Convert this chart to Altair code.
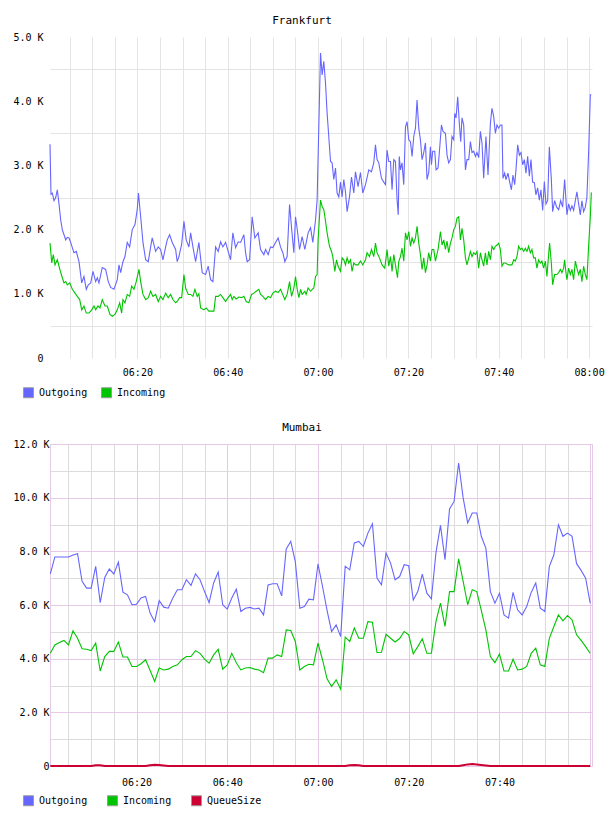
import altair as alt
import pandas as pd

FONT = "DejaVu Sans Mono"
C_OUT, C_IN, C_Q = "#6666ff", "#00c400", "#cc0033"

# ---------------- Frankfurt (minutes after 06:00, values in K) ----------------
fra_out_min = [0.66, 0.88, 1.17, 1.55, 1.92, 2.28, 2.65, 3.03, 3.38, 3.76,
               4.14, 4.49, 4.87, 5.24, 5.60, 5.97, 6.48, 7.08, 7.68, 8.18,
               8.69, 9.14, 9.67, 10.18, 10.77, 11.13, 11.50, 12.23, 12.98, 13.56,
               14.09, 14.82, 15.55, 15.93, 16.30, 16.81, 17.25, 17.76, 18.29, 18.87,
               19.47, 19.97, 20.24, 20.73, 21.24, 21.83, 22.41, 22.94, 23.29, 24.04,
               24.62, 25.15, 25.66, 26.26, 26.61, 27.14, 27.72, 28.47, 28.82, 29.20,
               29.80, 30.31, 30.81, 31.41, 31.79, 32.30, 32.89, 33.62, 34.35, 35.10,
               35.68, 36.21, 36.72, 37.32, 37.89, 38.42, 38.93, 39.53, 40.10, 40.63,
               41.14, 41.74, 42.32, 42.85, 43.58, 43.95, 44.31, 44.84, 45.41, 46.01,
               46.74, 47.27, 48.00, 48.38, 48.95, 49.48, 49.99, 50.59, 51.16, 51.69,
               52.20, 52.65, 53.15, 53.69, 54.13, 54.64, 55.01, 55.45, 55.90, 56.47,
               57.07, 57.80, 58.33, 58.84, 59.44, 59.79, 60.54, 60.90, 61.27, 61.65,
               62.00, 62.76, 63.11, 63.48, 63.86, 64.21, 64.59, 64.97, 65.32, 65.70,
               66.07, 66.43, 66.96, 67.40, 67.91, 68.28, 68.86, 69.39, 69.90, 70.50,
               71.23, 71.82, 72.33, 72.71, 73.06, 73.44, 74.04, 74.54, 74.92, 75.27,
               75.65, 76.03, 76.38, 76.76, 77.13, 77.49, 77.75, 77.97, 78.24, 78.59,
               78.97, 79.35, 79.70, 80.08, 80.45, 80.81, 81.18, 81.56, 81.91, 82.29,
               82.66, 83.02, 83.39, 83.77, 84.12, 84.50, 84.87, 85.10, 85.38, 85.83,
               86.12, 86.56, 86.87, 87.31, 87.66, 88.19, 88.55, 88.92, 89.30, 89.65,
               90.03, 90.25, 90.54, 90.91, 91.29, 91.58, 91.86, 92.24, 92.62, 92.97,
               93.35, 93.72, 94.08, 94.45, 94.83, 95.18, 95.56, 95.93, 96.29, 96.66,
               97.17, 97.62, 98.15, 98.50, 98.88, 99.25, 99.61, 99.98, 100.36, 100.71,
               100.93, 101.31, 101.60, 102.04, 102.42, 102.79, 103.15, 103.52, 103.81, 104.19,
               104.56, 104.92, 105.29, 105.67, 106.02, 106.40, 106.77, 107.13, 107.50, 107.88,
               108.23, 108.61, 108.98, 109.34, 109.72, 110.09, 110.45, 110.82, 111.20, 111.64,
               111.93, 112.37, 112.82, 113.26, 113.70, 114.14, 114.58, 115.09, 115.47, 115.84,
               116.20, 116.57, 116.95, 117.30, 117.68, 118.05, 118.41, 118.78, 119.16, 119.51,
               119.89, 120.27, 120.49]
fra_out_k = [3.33, 2.55, 2.57, 2.45, 2.50, 2.62, 2.40, 2.15, 2.00, 1.92,
             1.84, 1.88, 1.87, 1.80, 1.72, 1.64, 1.66, 1.50, 1.17, 1.27,
             1.07, 1.14, 1.17, 1.35, 1.19, 1.25, 1.17, 1.41, 1.38, 1.19,
             1.10, 1.07, 1.22, 1.45, 1.33, 1.50, 1.58, 1.80, 1.73, 2.00,
             2.08, 2.31, 2.57, 2.20, 1.80, 1.53, 1.50, 1.73, 1.87, 1.66,
             1.73, 1.69, 1.53, 1.73, 1.84, 1.92, 1.80, 1.69, 1.50, 1.58,
             1.77, 2.13, 1.84, 1.73, 1.95, 1.73, 1.50, 1.80, 1.33, 1.30,
             1.43, 1.22, 1.19, 1.73, 1.66, 1.81, 1.73, 1.80, 1.66, 1.53,
             1.95, 1.72, 1.81, 1.80, 1.92, 1.64, 1.50, 1.53, 2.20, 1.87,
             1.95, 1.69, 1.61, 1.69, 1.61, 1.73, 1.72, 1.80, 1.87, 1.73,
             1.64, 1.50, 1.58, 2.39, 2.03, 1.64, 2.20, 1.97, 1.69, 1.89,
             1.69, 1.95, 2.03, 1.80, 2.15, 2.46, 4.75, 4.41, 4.62, 4.28,
             3.82, 3.06, 3.04, 2.78, 2.96, 2.57, 2.51, 2.74, 2.51, 2.78,
             2.59, 2.28, 2.51, 2.82, 2.57, 2.90, 2.67, 2.89, 2.57, 2.70,
             2.93, 2.90, 3.04, 3.32, 3.09, 3.04, 2.80, 2.74, 2.70, 3.24,
             3.06, 3.06, 2.62, 3.09, 3.06, 2.46, 2.23, 3.14, 2.93, 3.04,
             2.70, 3.60, 3.68, 3.40, 3.37, 3.14, 3.45, 3.58, 4.02, 3.58,
             3.40, 3.09, 3.20, 3.35, 2.78, 2.89, 3.29, 3.01, 3.22, 3.22,
             2.93, 2.96, 3.22, 3.63, 3.53, 3.50, 3.16, 3.04, 3.09, 3.45,
             3.40, 3.81, 3.74, 4.07, 3.63, 3.37, 3.74, 3.63, 2.93, 3.09,
             3.09, 3.37, 3.20, 3.22, 3.14, 3.20, 3.12, 3.53, 3.35, 2.80,
             3.45, 2.85, 3.66, 3.89, 3.76, 3.50, 3.63, 3.58, 3.63, 3.63,
             2.80, 2.88, 2.78, 2.88, 2.74, 2.62, 2.85, 2.70, 2.93, 3.32,
             3.16, 3.20, 3.01, 3.09, 2.88, 3.14, 2.83, 3.09, 2.74, 2.73,
             2.54, 2.65, 2.46, 2.62, 2.30, 2.75, 2.40, 2.45, 3.29, 2.78,
             2.28, 2.45, 2.35, 2.31, 2.45, 2.35, 2.78, 2.23, 2.40, 2.30,
             2.37, 2.30, 2.45, 2.59, 2.40, 2.23, 2.45, 2.28, 2.35, 2.50,
             3.20, 4.10, 4.10]

fra_in_min = [0.66, 1.04, 1.39, 1.77, 2.28, 2.65, 3.16, 3.76, 4.14, 4.49,
              5.02, 5.60, 6.19, 6.70, 7.23, 7.68, 8.18, 8.69, 9.29, 9.89,
              10.40, 10.77, 11.28, 11.72, 12.23, 12.83, 13.34, 13.94, 14.44, 15.04,
              15.55, 16.08, 16.52, 16.81, 17.25, 17.76, 18.29, 18.74, 19.24, 19.75,
              20.35, 20.73, 21.24, 21.83, 22.41, 22.94, 23.45, 24.04, 24.62, 25.15,
              25.66, 26.26, 26.83, 27.36, 27.87, 28.47, 28.82, 29.35, 29.80, 30.31,
              30.68, 31.26, 31.79, 32.30, 32.74, 33.25, 33.62, 34.00, 34.73, 35.24,
              35.83, 36.94, 37.32, 37.89, 38.42, 38.93, 39.53, 40.10, 40.63, 40.99,
              41.36, 41.87, 42.47, 43.07, 43.58, 44.09, 44.68, 45.28, 45.79, 46.30,
              46.90, 47.27, 47.78, 48.38, 48.95, 49.48, 49.99, 50.59, 51.16, 51.69,
              52.05, 52.65, 53.15, 53.69, 54.13, 54.64, 55.01, 55.38, 55.75, 56.13,
              56.48, 57.07, 57.36, 57.80, 58.33, 58.69, 59.06, 59.44, 59.79, 60.01,
              60.54, 60.90, 61.27, 61.65, 62.00, 62.53, 62.98, 63.26, 63.71, 64.08,
              64.44, 64.97, 65.32, 65.70, 66.07, 66.43, 66.80, 67.18, 67.53, 67.91,
              68.28, 68.86, 69.39, 69.90, 70.50, 70.85, 71.38, 71.82, 72.33, 72.71,
              73.06, 73.59, 74.17, 74.77, 75.27, 75.65, 76.03, 76.38, 76.76, 77.13,
              77.58, 77.86, 78.24, 78.59, 78.97, 79.35, 79.70, 80.08, 80.45, 80.81,
              81.18, 81.56, 81.91, 82.29, 82.66, 83.02, 83.39, 83.77, 84.12, 84.50,
              84.87, 85.23, 85.61, 85.98, 86.56, 87.09, 87.44, 87.82, 88.19, 88.55,
              88.92, 89.30, 89.65, 90.03, 90.40, 90.76, 91.14, 91.51, 91.86, 92.24,
              92.62, 92.97, 93.35, 93.72, 94.08, 94.45, 94.83, 95.18, 95.56, 95.93,
              96.29, 96.66, 97.04, 97.39, 97.77, 98.15, 98.50, 98.88, 99.25, 99.61,
              99.98, 100.36, 100.71, 101.09, 101.46, 102.19, 102.92, 103.30, 103.67, 104.03,
              104.40, 104.78, 105.13, 105.51, 105.88, 106.24, 106.61, 106.99, 107.34, 107.72,
              108.09, 108.45, 108.82, 109.20, 109.55, 109.93, 110.31, 110.66, 111.04, 111.26,
              111.64, 111.93, 112.37, 112.88, 113.26, 113.63, 113.98, 114.36, 114.58, 114.87,
              115.09, 115.47, 115.84, 116.20, 116.57, 116.95, 117.30, 117.68, 118.05, 118.41,
              118.78, 119.16, 119.51, 119.89, 120.27, 120.49]
fra_in_k = [1.79, 1.48, 1.61, 1.45, 1.53, 1.43, 1.30, 1.17, 1.19, 1.14,
            1.17, 1.07, 1.01, 0.96, 0.91, 0.75, 0.81, 0.70, 0.70, 0.75,
            0.81, 0.75, 0.81, 0.78, 0.91, 0.81, 0.81, 0.68, 0.65, 0.68,
            0.75, 0.86, 0.70, 0.91, 0.86, 0.99, 0.96, 1.12, 1.07, 1.19,
            1.38, 1.19, 0.99, 0.91, 0.94, 1.04, 0.96, 0.99, 0.88, 0.96,
            0.91, 1.01, 0.94, 0.99, 0.91, 0.86, 0.88, 0.94, 0.94, 1.30,
            1.09, 0.99, 0.99, 0.96, 1.07, 0.96, 1.00, 0.78, 0.75, 0.78,
            0.73, 0.73, 0.96, 0.96, 0.99, 0.94, 0.88, 0.94, 0.99, 0.91,
            0.96, 0.92, 0.95, 0.94, 0.96, 0.88, 0.86, 0.99, 1.01, 1.04,
            1.07, 0.99, 0.96, 0.91, 0.96, 0.94, 1.01, 1.04, 1.02, 1.07,
            1.01, 0.91, 0.99, 1.19, 0.96, 1.09, 1.27, 1.07, 0.94, 1.07,
            0.99, 1.04, 0.99, 1.09, 1.04, 1.07, 1.09, 1.27, 1.30, 1.84,
            2.46, 2.36, 2.31, 2.13, 1.95, 1.74, 1.66, 1.58, 1.35, 1.53,
            1.43, 1.35, 1.56, 1.53, 1.45, 1.56, 1.48, 1.53, 1.35, 1.48,
            1.45, 1.45, 1.51, 1.45, 1.53, 1.64, 1.58, 1.69, 1.58, 1.79,
            1.64, 1.56, 1.45, 1.40, 1.69, 1.43, 1.58, 1.35, 1.61, 1.45,
            1.25, 1.50, 1.58, 1.71, 1.51, 1.95, 1.84, 1.97, 1.74, 1.87,
            1.79, 1.87, 2.05, 1.79, 1.61, 1.38, 1.56, 1.33, 1.45, 1.64,
            1.51, 1.69, 1.69, 1.51, 1.69, 1.97, 1.76, 1.84, 1.69, 1.82,
            1.64, 1.79, 1.87, 2.00, 2.05, 2.18, 2.20, 1.84, 2.02, 1.84,
            1.56, 1.45, 1.56, 1.66, 1.58, 1.64, 1.61, 1.66, 1.40, 1.64,
            1.53, 1.43, 1.64, 1.45, 1.66, 1.53, 1.74, 1.69, 1.74, 1.76,
            1.79, 1.69, 1.43, 1.48, 1.48, 1.45, 1.45, 1.53, 1.51, 1.58,
            1.74, 1.69, 1.71, 1.66, 1.71, 1.66, 1.74, 1.64, 1.69, 1.56,
            1.56, 1.40, 1.53, 1.48, 1.51, 1.40, 1.51, 1.27, 1.61, 1.79,
            1.48, 1.14, 1.30, 1.30, 1.33, 1.38, 1.33, 1.40, 1.53, 1.33,
            1.22, 1.40, 1.30, 1.38, 1.22, 1.51, 1.40, 1.30, 1.38, 1.19,
            1.43, 1.30, 1.22, 1.74, 2.20, 2.58]

# ---------------- Mumbai (one sample per minute, 06:01 .. 08:00, values in K) ----------------
mum_min = list(range(1, 121))
mum_out_k = [7.16, 7.79, 7.79, 7.79, 7.79, 7.86, 7.91, 6.88, 6.63, 6.63,
             7.44, 6.09, 7.03, 7.34, 7.16, 7.60, 6.48, 6.38, 6.01, 6.03,
             6.26, 6.32, 5.70, 5.38, 6.16, 5.92, 5.88, 6.26, 6.57, 6.57,
             6.94, 6.73, 7.16, 6.94, 6.50, 6.09, 6.82, 7.23, 6.01, 5.85,
             6.26, 6.59, 5.76, 5.88, 5.91, 5.85, 5.88, 5.63, 6.75, 6.79,
             6.79, 6.34, 8.09, 8.37, 7.62, 5.88, 5.94, 6.22, 6.19, 7.53,
             6.69, 5.80, 5.01, 5.26, 4.82, 7.44, 7.31, 8.31, 8.37, 8.18,
             8.68, 9.03, 7.00, 6.75, 7.94, 7.56, 6.94, 7.06, 7.50, 7.46,
             6.19, 6.50, 7.15, 6.44, 6.23, 7.94, 8.97, 7.69, 9.58, 9.86,
             11.29, 9.99, 9.06, 9.43, 9.43, 8.56, 8.12, 6.50, 6.07, 6.44,
             5.63, 5.51, 6.47, 5.82, 5.63, 5.94, 6.47, 6.82, 5.88, 5.76,
             7.44, 7.87, 8.99, 8.56, 8.68, 8.56, 7.54, 7.29, 7.00, 6.07]
mum_in_k = [4.20, 4.51, 4.60, 4.68, 4.51, 5.04, 4.76, 4.37, 4.35, 4.30,
            4.58, 3.54, 4.08, 4.27, 4.27, 4.62, 4.06, 4.06, 3.71, 3.71,
            3.81, 3.96, 3.56, 3.15, 3.65, 3.58, 3.61, 3.71, 3.77, 3.96,
            4.08, 4.08, 4.30, 4.20, 3.98, 3.83, 4.14, 4.35, 3.61, 3.77,
            4.20, 3.85, 3.58, 3.65, 3.67, 3.61, 3.58, 3.48, 4.02, 4.02,
            4.14, 4.08, 5.07, 5.05, 4.64, 3.58, 3.71, 3.79, 3.77, 4.58,
            3.96, 3.25, 2.96, 3.21, 2.86, 4.80, 4.64, 5.14, 4.76, 4.76,
            5.38, 5.36, 4.23, 4.24, 4.91, 4.76, 4.62, 4.75, 5.01, 4.89,
            4.18, 4.45, 4.74, 4.20, 4.20, 5.38, 6.07, 5.20, 6.50, 6.50,
            7.72, 6.88, 6.01, 6.57, 6.50, 5.80, 5.07, 4.08, 3.85, 4.17,
            3.54, 3.54, 3.98, 3.58, 3.61, 3.71, 4.20, 4.39, 3.77, 3.71,
            4.76, 5.20, 5.63, 5.41, 5.61, 5.45, 4.89, 4.68, 4.45, 4.20]
mum_queue_k = [0, 0, 0, 0, 0, 0, 0, 0, 0, 0,
               0.025, 0.025, 0, 0, 0, 0, 0, 0, 0, 0,
               0, 0, 0.03, 0.05, 0.04, 0.02, 0, 0, 0, 0,
               0, 0, 0, 0, 0, 0, 0, 0, 0, 0,
               0, 0, 0, 0, 0, 0, 0, 0, 0, 0,
               0, 0, 0, 0, 0, 0, 0, 0, 0, 0,
               0, 0, 0, 0, 0, 0, 0.03, 0.04, 0.03, 0,
               0, 0, 0, 0, 0, 0, 0, 0, 0, 0,
               0, 0, 0, 0, 0, 0, 0, 0, 0, 0,
               0, 0.03, 0.06, 0.07, 0.06, 0.04, 0.02, 0, 0, 0,
               0, 0, 0, 0, 0, 0, 0, 0, 0, 0,
               0, 0, 0, 0, 0, 0, 0, 0, 0, 0]

for a, b in [(fra_out_min, fra_out_k), (fra_in_min, fra_in_k),
             (mum_min, mum_out_k), (mum_min, mum_in_k), (mum_min, mum_queue_k)]:
    assert len(a) == len(b), (len(a), len(b))


def frame(times, values, name):
    return pd.DataFrame({"t": times, "v": [k * 1000 for k in values],
                         "series": name, "key": name})


fra_df = pd.concat([frame(fra_out_min, fra_out_k, "Outgoing"),
                    frame(fra_in_min, fra_in_k, "Incoming")], ignore_index=True)
mum_df = pd.concat([frame(mum_min, mum_out_k, "Outgoing"),
                    frame(mum_min, mum_in_k, "Incoming"),
                    frame(mum_min, mum_queue_k, "QueueSize")], ignore_index=True)


def legend(x, y, cols, grid_align):
    return alt.Legend(
        title=None, orient="none", legendX=x, legendY=y, direction="horizontal",
        columns=cols, gridAlign=grid_align, columnPadding=11, padding=0,
        symbolType="square", symbolSize=100, symbolStrokeColor="#9a9a9a",
        symbolStrokeWidth=1, symbolOpacity=1, labelFont=FONT, labelFontSize=10,
        labelColor="black", labelOffset=5,
    )


def x_axis(label_test, grid_color, pad):
    return alt.Axis(
        values=list(range(5, 121, 5)),
        labelExpr="(%s) ? timeFormat(datetime(2000, 0, 1, 6, datum.value, 0), '%%H:%%M') : ''" % label_test,
        grid=True, gridColor=grid_color, gridWidth=1, ticks=False, domain=False,
        labelFlush=False, labelOverlap=False, labelPadding=pad,
        labelFont=FONT, labelFontSize=10, labelColor="black", title=None,
    )


def title(text):
    return alt.TitleParams(text=text, font=FONT, fontSize=11, fontWeight="normal",
                           color="black", anchor="middle", frame="group", dx=-19, offset=6)


def panel(df, names, colors, xdomain, ydomain, x_ax, y_ax, leg, w, h, ttl, stroke):
    base = alt.Chart(df).encode(
        x=alt.X("t:Q", scale=alt.Scale(domain=xdomain, nice=False, zero=False), axis=x_ax),
        y=alt.Y("v:Q", scale=alt.Scale(domain=ydomain, nice=False), axis=y_ax),
    )
    # line colours: same mapping, listed in reverse so this scale is not merged with the key legend
    lines = base.mark_line().encode(
        color=alt.Color("series:N", scale=alt.Scale(domain=names[::-1], range=colors[::-1]),
                        legend=None),
        strokeWidth=alt.condition("datum.series == 'QueueSize'", alt.value(2.0), alt.value(1.1)),
    )
    keys = base.mark_square(size=0, filled=True).encode(
        fill=alt.Fill("key:N", scale=alt.Scale(domain=names, range=colors), legend=leg))
    return alt.layer(lines, keys).properties(
        width=w, height=h, title=ttl, view=alt.ViewBackground(stroke=stroke))


fra_chart = panel(
    fra_df, ["Outgoing", "Incoming"], [C_OUT, C_IN], [0.66, 120.64], [0, 5000],
    x_axis("datum.value % 20 == 0", "#e4e4e4", 9),
    alt.Axis(values=list(range(0, 5001, 500)),
             labelExpr="datum.value == 0 ? '0' : (datum.value % 1000 == 0 ? format(datum.value / 1000, '.1f') + ' K' : '')",
             grid=True,
             gridColor={"condition": {"test": "datum.value % 1000 == 500", "value": "#e4e4e4"},
                        "value": "rgba(0,0,0,0)"},
             ticks=False, domain=False, labelPadding=7, labelFont=FONT,
             labelFontSize=10, labelColor="black", title=None),
    legend(-27, 350, 2, "each"), 542, 321, title("Frankfurt"), "transparent")

PINK, GRAY = "#e6c9e6", "#dcdcdc"
mum_chart = panel(
    mum_df, ["Outgoing", "Incoming", "QueueSize"], [C_OUT, C_IN, C_Q],
    [0.93, 120.4], [0, 12000],
    x_axis("datum.value % 20 == 0 && datum.value < 120",
           {"condition": {"test": "datum.value % 20 == 0", "value": PINK}, "value": GRAY}, 11),
    alt.Axis(values=list(range(0, 12001, 1000)),
             labelExpr="datum.value == 0 ? '0' : (datum.value % 2000 == 0 ? format(datum.value / 1000, '.1f') + ' K' : '')",
             grid=True,
             gridColor={"condition": {"test": "datum.value % 2000 == 0", "value": PINK},
                        "value": GRAY},
             ticks=False, domain=False, labelPadding=1, labelFont=FONT,
             labelFontSize=10, labelColor="black", title=None),
    legend(-27, 351, 3, "all"), 542, 322, title("Mumbai"), PINK)

chart = alt.vconcat(fra_chart, mum_chart, spacing=86, bounds="flush").resolve_scale(
    color="independent", fill="independent").resolve_legend(
    color="independent", fill="independent").properties(
    padding={"left": 12, "top": 14, "right": 0, "bottom": 0},
    background="white",
)

chart.save("out.html", embed_options={"renderer": "svg", "actions": False})
